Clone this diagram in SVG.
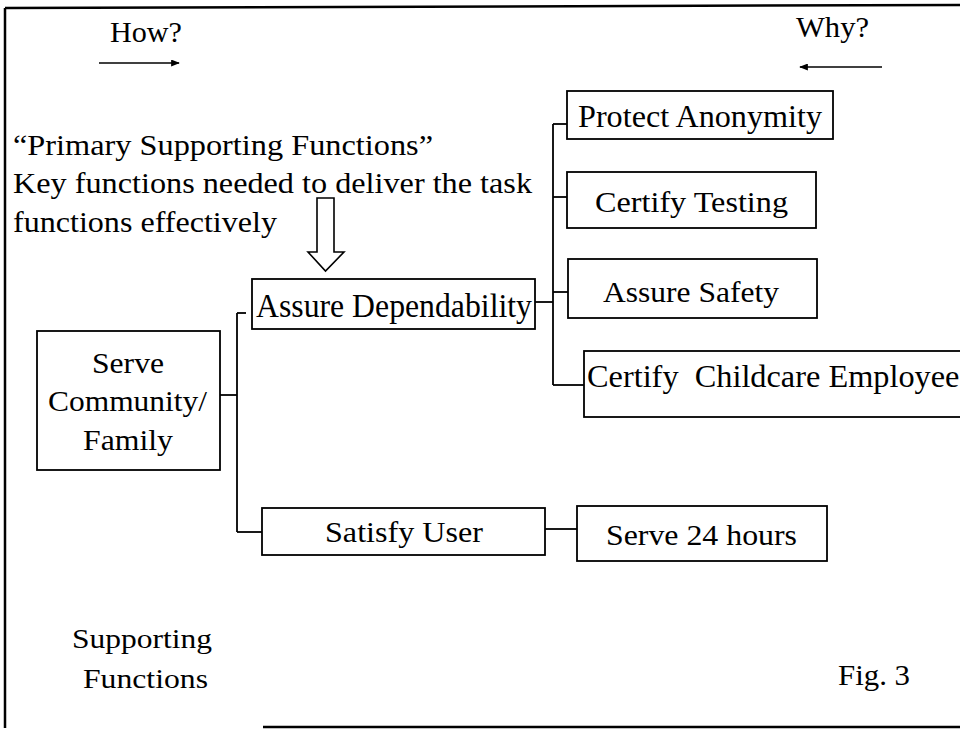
<svg xmlns="http://www.w3.org/2000/svg" width="960" height="730" viewBox="0 0 960 730" font-family="'Liberation Serif', Tinos, 'Times New Roman', Times, serif">
<style>
  text { font-family: 'Liberation Serif', Tinos, 'Times New Roman', Times, serif; fill: #000; font-size: 30px; }
  .box { fill: #fff; stroke: #000; stroke-width: 1.8; }
  .conn { fill: none; stroke: #000; stroke-width: 1.8; }
  .frame { fill: none; stroke: #000; stroke-width: 2.5; }
</style>
<defs>
  <marker id="ah" viewBox="0 0 10 8" refX="9" refY="4" markerWidth="9" markerHeight="7" markerUnits="userSpaceOnUse" orient="auto">
    <path d="M0,0 L10,4 L0,8 Z" fill="#000"/>
  </marker>
</defs>
<rect width="960" height="730" fill="#fff"/>

<g id="frame">
  <line class="frame" x1="5" y1="8" x2="960" y2="5"/>
  <line class="frame" x1="5" y1="8" x2="5" y2="728"/>
  <line class="frame" x1="263" y1="727" x2="960" y2="727"/>
</g>

<g id="how">
  <text x="110" y="42" textLength="72" lengthAdjust="spacingAndGlyphs" font-size="28">How?</text>
  <line x1="99" y1="63" x2="179" y2="63" stroke="#000" stroke-width="1.5" marker-end="url(#ah)"/>
</g>
<g id="why">
  <text x="796" y="37" textLength="73" lengthAdjust="spacingAndGlyphs" font-size="28">Why?</text>
  <line x1="882" y1="67" x2="800" y2="67" stroke="#000" stroke-width="1.5" marker-end="url(#ah)"/>
</g>

<g id="note">
  <text x="13" y="155" textLength="420" lengthAdjust="spacingAndGlyphs" style="font-size:29px">“Primary Supporting Functions”</text>
  <text x="13" y="193" textLength="519" lengthAdjust="spacingAndGlyphs" style="font-size:29px">Key functions needed to deliver the task</text>
  <text x="13" y="232" textLength="264" lengthAdjust="spacingAndGlyphs" style="font-size:29px">functions effectively</text>
  <path d="M317,198 L334,198 L334,252 L344,252 L325.5,271 L308,252 L317,252 Z" fill="#fff" stroke="#000" stroke-width="1.6"/>
</g>

<g id="connectors">
  <line class="conn" x1="220" y1="395" x2="237" y2="395"/>
  <line class="conn" x1="237" y1="313" x2="237" y2="532"/>
  <line class="conn" x1="237" y1="313" x2="246" y2="313"/>
  <line class="conn" x1="237" y1="532" x2="262" y2="532"/>
  <line class="conn" x1="535" y1="302" x2="553" y2="302"/>
  <line class="conn" x1="553" y1="124" x2="553" y2="385"/>
  <line class="conn" x1="553" y1="124" x2="567" y2="124"/>
  <line class="conn" x1="553" y1="197" x2="567" y2="197"/>
  <line class="conn" x1="553" y1="292" x2="568" y2="292"/>
  <line class="conn" x1="553" y1="385" x2="584" y2="385"/>
  <line class="conn" x1="545" y1="529" x2="577" y2="529"/>
</g>

<g id="serve-community">
  <rect class="box" x="37" y="331" width="183" height="139"/>
  <text x="92" y="373" textLength="72" lengthAdjust="spacingAndGlyphs">Serve</text>
  <text x="48" y="411" textLength="159" lengthAdjust="spacingAndGlyphs">Community/</text>
  <text x="83" y="450" textLength="90" lengthAdjust="spacingAndGlyphs">Family</text>
</g>

<g id="assure-dependability">
  <rect class="box" x="252" y="279" width="283" height="50"/>
  <text x="256" y="317" textLength="276" lengthAdjust="spacingAndGlyphs" style="font-size:34px">Assure Dependability</text>
</g>

<g id="satisfy-user">
  <rect class="box" x="262" y="508" width="283" height="47"/>
  <text x="325" y="542" textLength="158" lengthAdjust="spacingAndGlyphs">Satisfy User</text>
</g>

<g id="protect-anonymity">
  <rect class="box" x="567" y="91" width="266" height="48"/>
  <text x="578" y="127" textLength="244" lengthAdjust="spacingAndGlyphs" style="font-size:31px">Protect Anonymity</text>
</g>

<g id="certify-testing">
  <rect class="box" x="567" y="172" width="249" height="56"/>
  <text x="595" y="212" textLength="193" lengthAdjust="spacingAndGlyphs">Certify Testing</text>
</g>

<g id="assure-safety">
  <rect class="box" x="568" y="259" width="249" height="59"/>
  <text x="603" y="302" textLength="176" lengthAdjust="spacingAndGlyphs">Assure Safety</text>
</g>

<g id="certify-childcare">
  <rect class="box" x="584" y="351" width="400" height="66"/>
  <text x="587" y="387" textLength="385" lengthAdjust="spacingAndGlyphs" style="font-size:32px;white-space:pre" xml:space="preserve">Certify  Childcare Employees</text>
</g>

<g id="serve-24">
  <rect class="box" x="577" y="506" width="250" height="55"/>
  <text x="606" y="545" textLength="191" lengthAdjust="spacingAndGlyphs">Serve 24 hours</text>
</g>

<g id="labels">
  <text x="72" y="648" textLength="140" lengthAdjust="spacingAndGlyphs" style="font-size:28px">Supporting</text>
  <text x="83" y="688" textLength="125" lengthAdjust="spacingAndGlyphs" style="font-size:28px">Functions</text>
  <text x="838" y="685" textLength="72" lengthAdjust="spacingAndGlyphs">Fig. 3</text>
</g>
</svg>
